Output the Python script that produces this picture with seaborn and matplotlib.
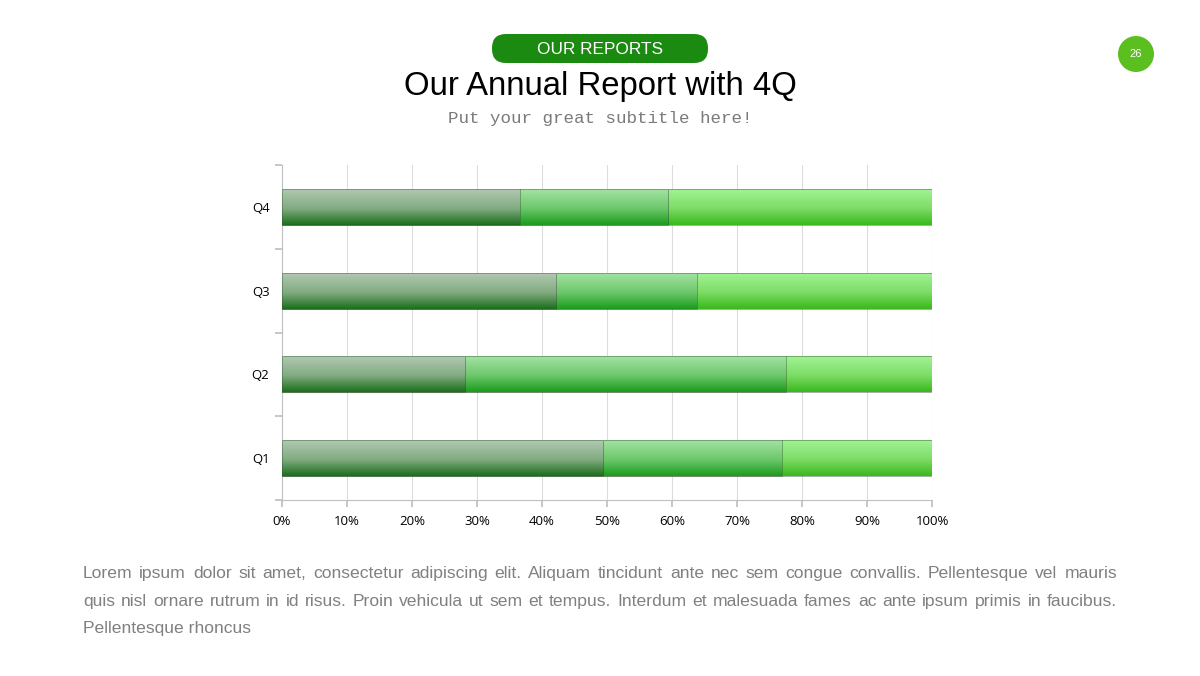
import numpy as np
import pandas as pd
import seaborn as sns
import matplotlib.pyplot as plt
from matplotlib.patches import FancyBboxPatch, Circle
from matplotlib.colors import to_rgb

# data (percent of each quarter)
quarters = ['Q4', 'Q3', 'Q2', 'Q1']
series_a = [36.6, 42.2, 28.2, 49.4]
series_b = [22.8, 21.6, 49.3, 27.5]
series_c = [40.6, 36.2, 22.5, 23.1]
x_ticks = list(range(0, 101, 10))

# top / middle / bottom gradient colours of each series
shade_a = ('#b3cab3', '#82ab82', '#1c6f1c')
shade_b = ('#a6e4a6', '#6cc86c', '#1c9c1c')
shade_c = ('#a3f496', '#7ddc66', '#3ab91d')

lorem = [
    "Lorem ipsum dolor sit amet, consectetur adipiscing elit. Aliquam tincidunt ante nec sem congue convallis. Pellentesque vel mauris",
    "quis nisl ornare rutrum in id risus. Proin vehicula ut sem et tempus. Interdum et malesuada fames ac ante ipsum primis in faucibus.",
    "Pellentesque rhoncus",
]

df = pd.DataFrame({'quarter': quarters, 'a': series_a, 'b': series_b, 'c': series_c})
df['ab'] = df['a'] + df['b']
df['abc'] = df['ab'] + df['c']

sns.set_theme(style='white')
plt.rcParams['font.family'] = 'Liberation Sans'

fig = plt.figure(figsize=(12, 6.76), dpi=100)
ax = fig.add_axes([282 / 1200, 1 - 500 / 676, 650 / 1200, 335 / 676])

# stacked bars: draw cumulative totals, largest first
layers = [('abc', shade_c), ('ab', shade_b), ('a', shade_a)]
for col, shade in layers:
    sns.barplot(data=df, x=col, y='quarter', order=quarters, orient='h',
                color=shade[2], width=0.43, saturation=1, ax=ax)


def gradient(stops, n=64):
    pos = np.linspace(0, 1, n)
    cols = np.array([to_rgb(c) for c in stops])
    at = [0, 0.55, 1]
    return np.stack([np.interp(pos, at, cols[:, k]) for k in range(3)], axis=1)[:, None, :]


# replace flat fill with vertical gradient
n = len(quarters)
for i, p in enumerate(ax.patches):
    layer = i // n
    grad = gradient(layers[layer][1])
    x0, y0 = p.get_x(), p.get_y()
    w, h = p.get_width(), p.get_height()
    im = ax.imshow(grad, extent=[x0, x0 + w, y0 + h, y0], origin='upper',
                   aspect='auto', zorder=2 + 2 * layer, interpolation='bilinear')
    im.set_clip_path(p)
    p.set_facecolor('none')
    p.set_edgecolor((0.2, 0.35, 0.2, 0.45))
    p.set_linewidth(0.7)
    p.set_zorder(2.6 + 2 * layer)

ax.set_xlim(0, 100)
ax.set_ylim(n - 0.5, -0.5)
ax.set_xticks(x_ticks)
ax.set_xticklabels([f'{t}%' for t in x_ticks])
ax.set_yticks(np.arange(-0.5, n, 1.0))
ax.set_yticklabels([])
ax.set_yticks(range(n), minor=True)
ax.set_yticklabels(quarters, minor=True)
ax.set_xlabel('')
ax.set_ylabel('')

ax.xaxis.grid(True, color='#dcdcdc', lw=0.8)
ax.set_axisbelow(True)
for s in ['top', 'right']:
    ax.spines[s].set_visible(False)
for s in ['left', 'bottom']:
    ax.spines[s].set_color('#c0c0c0')
    ax.spines[s].set_linewidth(0.8)
ax.tick_params(axis='x', which='major', bottom=True, length=5, color='#c0c0c0',
               labelsize=9.5, pad=6, labelcolor='black')
ax.tick_params(axis='y', which='major', left=True, length=5, color='#c0c0c0')
ax.tick_params(axis='y', which='minor', left=False, length=0, labelsize=9.5,
               pad=9, labelcolor='black')
for lab in ax.get_xticklabels() + ax.get_yticklabels(minor=True):
    lab.set_family('Open Sans')

# header, page number and paragraph in pixel coordinates
ov = fig.add_axes([0, 0, 1, 1])
ov.set_xlim(0, 1200)
ov.set_ylim(676, 0)
ov.axis('off')

ov.add_patch(FancyBboxPatch((492, 34), 216, 29, boxstyle='round,pad=0,rounding_size=14',
                            fc='#1b8a10', ec='none'))
ov.text(600, 49, 'OUR REPORTS', color='white', fontsize=12.4, ha='center', va='center')
ov.text(600, 86, 'Our Annual Report with 4Q', color='black', fontsize=23.7,
        ha='center', va='center')
ov.text(600, 118, 'Put your great subtitle here!', color='#7a7a7a', fontsize=12.6,
        family='Liberation Mono', ha='center', va='center')

ov.add_patch(Circle((1136, 54), 18, fc='#5bbf1f', ec='none'))
ov.text(1136, 54, '26', color='white', fontsize=8, ha='center', va='center')

renderer = fig.canvas.get_renderer()


def justified(line, x0, x1, y, stretch=True):
    if not stretch:
        ov.text(x0, y, line, ha='left', va='baseline', fontsize=12.6, color='#808080')
        return
    words = line.split(' ')
    items = [ov.text(0, y, w, ha='left', va='baseline', fontsize=12.6, color='#808080')
             for w in words]
    widths = [t.get_window_extent(renderer).width for t in items]
    gap = (x1 - x0 - sum(widths)) / (len(words) - 1)
    x = x0
    for t, w in zip(items, widths):
        t.set_x(x)
        x += w + gap


# whole-pixel baselines keep every word on the same row
for k, line, y in zip(range(3), lorem, [578.2, 606.2, 633.2]):
    justified(line, 83, 1117, y, stretch=k < len(lorem) - 1)

fig.savefig('out.png', dpi=100, facecolor='white')
